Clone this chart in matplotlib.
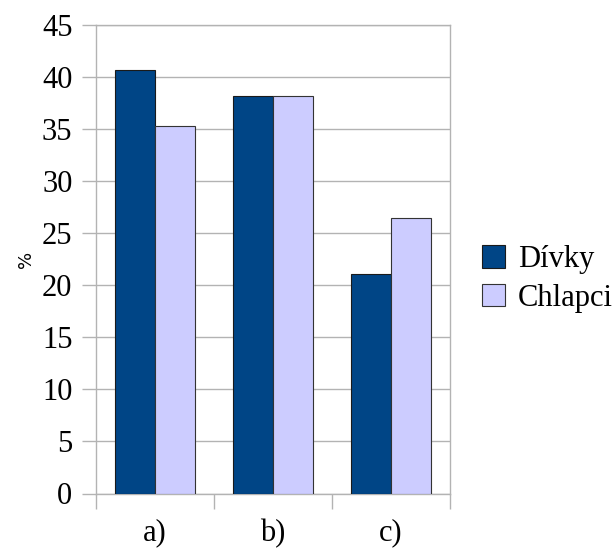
import numpy as np
import matplotlib.pyplot as plt
from matplotlib.font_manager import FontProperties

# Podíl odpovědí podle pohlaví (%)
kategorie = ['a)', 'b)', 'c)']
divky = [40.7, 38.2, 21.1]
chlapci = [35.3, 38.2, 26.5]

pismo = FontProperties(family='Liberation Serif', size=22)

fig = plt.figure(figsize=(6.16, 5.49), dpi=100)
ax = fig.add_axes([96 / 616, 1 - 493.5 / 549, 354 / 616, 468.5 / 549])

x = np.arange(len(kategorie))
w = 0.335
ax.bar(x - w / 2, divky, w, color='#004586', edgecolor='#1a1a1a', linewidth=0.8,
       label='Dívky', zorder=3)
ax.bar(x + w / 2, chlapci, w, color='#ccccff', edgecolor='#333333', linewidth=0.8,
       label='Chlapci', zorder=3)

ax.set_xlim(-0.5, 2.5)
ax.set_ylim(0, 45)
ax.set_yticks(np.arange(0, 46, 5))
ax.yaxis.grid(True, color='#b3b3b3', linewidth=1, zorder=0)

# popisky kategorií mezi dělícími značkami
ax.set_xticks(x)
ax.set_xticklabels(kategorie)
ax.tick_params(axis='x', length=0, pad=18)
ax.set_xticks([0.5, 1.5, 2.5, -0.5], minor=True)
ax.tick_params(axis='x', which='minor', length=11, color='#b3b3b3', width=1)
ax.tick_params(axis='y', length=10, color='#b3b3b3', width=1, pad=7)

for lbl in ax.get_xticklabels() + ax.get_yticklabels():
    lbl.set_fontproperties(pismo)

for s in ax.spines.values():
    s.set_color('#b3b3b3')
    s.set_linewidth(1)

ax.set_ylabel('%', family='DejaVu Sans', fontsize=13, labelpad=5)

ax.legend(loc='center left', bbox_to_anchor=(1.0904, 0.458), frameon=False,
          prop=pismo, handlelength=0.75, handleheight=0.75, handletextpad=0.43,
          labelspacing=0.3, borderaxespad=0, borderpad=0)

fig.savefig('out.png', dpi=100)
